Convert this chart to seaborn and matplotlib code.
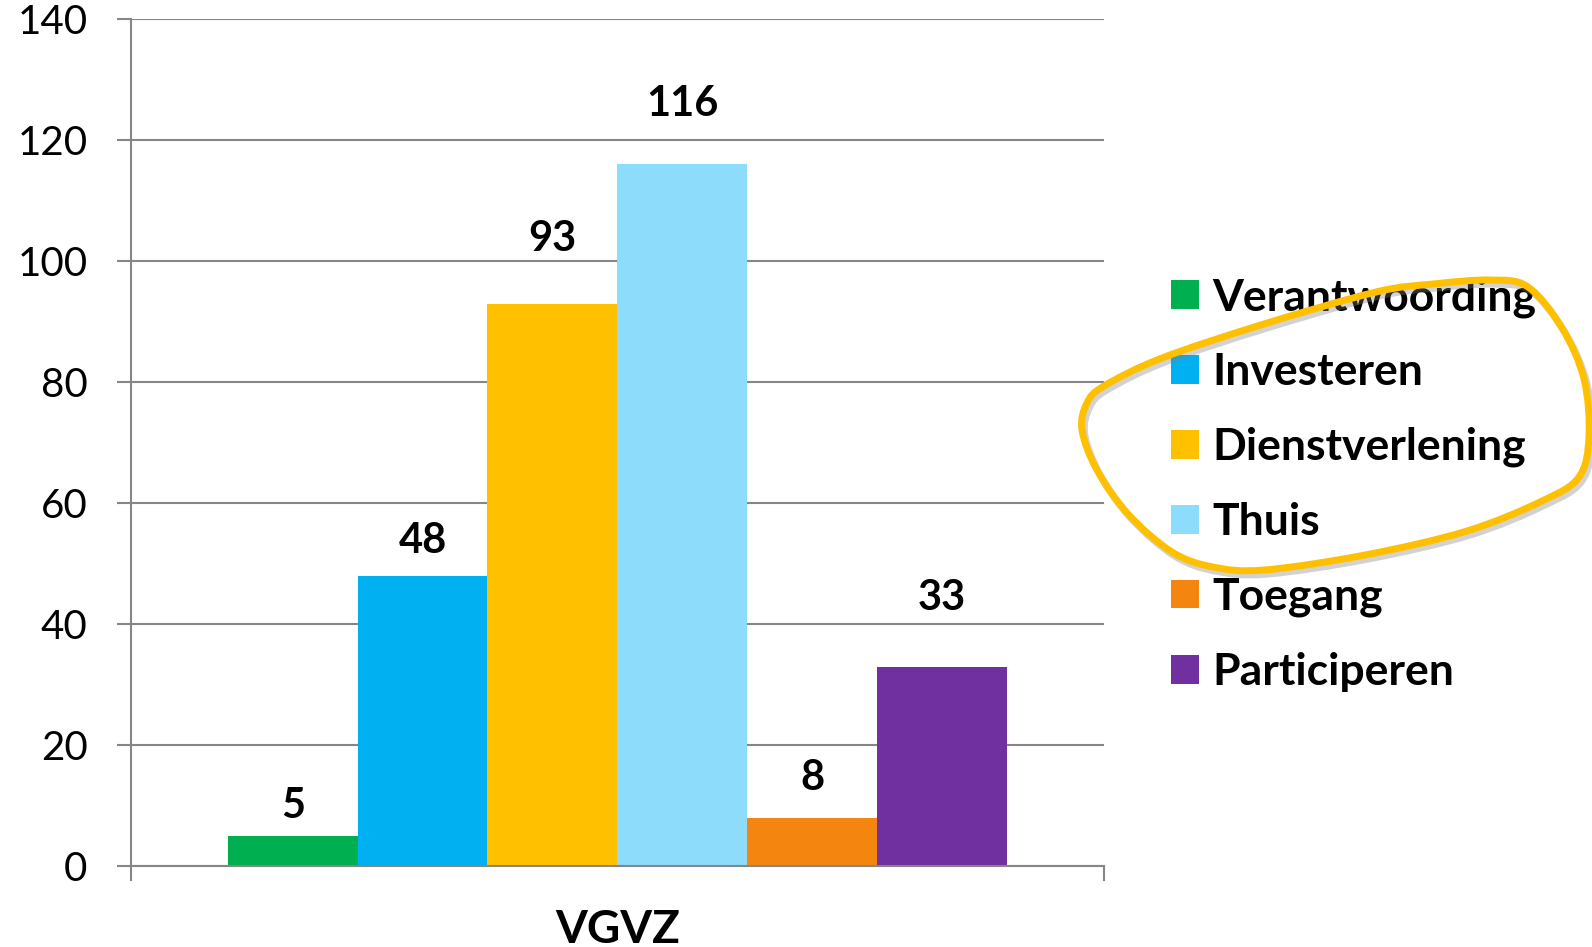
import numpy as np
import pandas as pd
import matplotlib
matplotlib.use('Agg')
import matplotlib.pyplot as plt
import matplotlib.patheffects as pe
from matplotlib.path import Path
from matplotlib.patches import PathPatch
import seaborn as sns

categories = ['VGVZ']
series = ['Verantwoording', 'Investeren', 'Dienstverlening', 'Thuis', 'Toegang', 'Participeren']
values = [5, 48, 93, 116, 8, 33]
colors = ['#00B050', '#00B0F0', '#FFC000', '#8EDCFC', '#F4860F', '#7030A0']
yticks = [0, 20, 40, 60, 80, 100, 120, 140]

# label lift above each bar (pixels), as placed in the original
label_lift = [30, 35, 65, 61, 40, 69]

plt.rcParams['font.family'] = ['Lato', 'DejaVu Sans']

W, H = 1592, 947
df = pd.DataFrame({'cat': categories * len(series), 'serie': series, 'val': values})

fig = plt.figure(figsize = (W/100, H/100), dpi = 100)
ax = fig.add_axes([130.5/W, 1 - 866.3/H, (1104 - 130.5)/W, (866.3 - 19.3)/H])
sns.barplot(data = df, x = 'cat', y = 'val', hue = 'serie', hue_order = series, palette = colors,
            width = 0.8, linewidth = 0, saturation = 1, ax = ax, legend = True)

grey = '#868686'
ax.set_ylim(0, 140); ax.set_xlim(-0.5, 0.5)
ax.set_yticks(yticks)
ax.yaxis.grid(True, color = grey, linewidth = 1.5)
ax.set_axisbelow(True)
for s in ['top', 'right']:
    ax.spines[s].set_visible(False)
for s in ['left', 'bottom']:
    ax.spines[s].set_color(grey); ax.spines[s].set_linewidth(1.5)
ax.tick_params(axis = 'y', length = 10, width = 1.5, color = grey, labelsize = 29, pad = 21)
ax.set_xticks([0]); ax.set_xticklabels(categories, fontsize = 33, fontweight = 'bold')
ax.set_xticks([-0.5, 0.5], minor = True)
ax.tick_params(axis = 'x', which = 'major', length = 0, pad = 31)
ax.tick_params(axis = 'x', which = 'minor', length = 11, width = 1.5, color = grey)
ax.set_xlabel(''); ax.set_ylabel('')

for cont, lift in zip(ax.containers, label_lift):
    for bar in cont:
        ax.annotate(str(int(bar.get_height())), (bar.get_x() + bar.get_width()/2, bar.get_height()),
                    xytext = (0, lift), textcoords = 'offset pixels', ha = 'center', va = 'center',
                    fontsize = 30, fontweight = 'bold')

h, l = ax.get_legend_handles_labels()
ax.legend(h, l, loc = 'upper left', bbox_to_anchor = (1171/W, 1 - 277/H), bbox_transform = fig.transFigure,
          frameon = False, prop = {'size': 32, 'weight': 'bold'}, handlelength = 0.62, handleheight = 0.62,
          handletextpad = 0.3, labelspacing = 0.78, borderpad = 0, borderaxespad = 0)

# hand drawn loop around part of the legend
pts = np.array([(1491, 280), (1528, 287), (1562, 328), (1584, 379), (1589, 436), (1579, 477), (1542, 501),
                (1467, 531), (1365, 555), (1264, 570), (1213, 567), (1172, 552), (1128, 514), (1097, 470),
                (1082, 430), (1087, 403), (1104, 386), (1162, 358), (1264, 324), (1376, 292), (1433, 284)], float)
pts[:, 0] /= W; pts[:, 1] = 1 - pts[:, 1]/H
n = len(pts)
verts = [pts[0]]; codes = [Path.MOVETO]
for i in range(n):
    p0, p1, p2, p3 = pts[i-1], pts[i], pts[(i+1) % n], pts[(i+2) % n]
    verts += [p1 + (p2 - p0)/6, p2 - (p3 - p1)/6, p2]
    codes += [Path.CURVE4]*3
loop = PathPatch(Path(verts, codes), transform = fig.transFigure, fill = False, edgecolor = '#FFC000',
                 linewidth = 5, clip_on = False,
                 path_effects = [pe.SimpleLineShadow(offset = (2, -3), shadow_color = 'grey', alpha = 0.35), pe.Normal()])
fig.add_artist(loop)

fig.savefig('out.png', dpi = 100)
